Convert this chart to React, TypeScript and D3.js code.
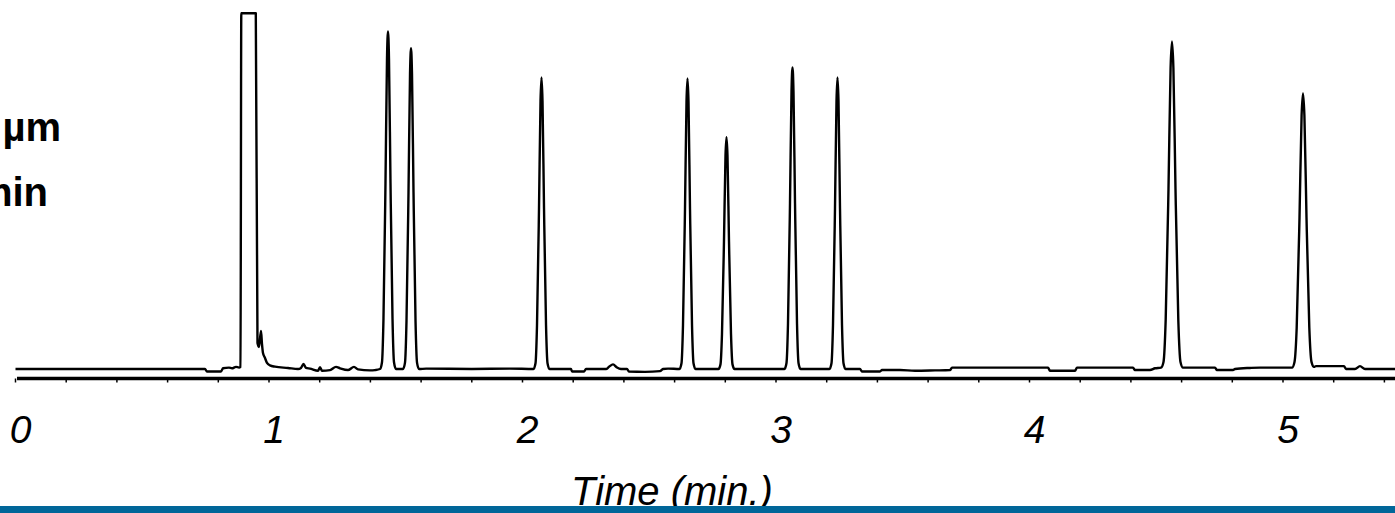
import React from 'react';
import * as d3 from 'd3';

const W = 1395;
const H = 513;

// x axis: minor ticks every 0.2 min, labels at whole minutes
const xTickValues = [0, 0.2, 0.4, 0.6, 0.8, 1, 1.2, 1.4, 1.6, 1.8, 2, 2.2, 2.4, 2.6, 2.8, 3, 3.2, 3.4, 3.6, 3.8, 4, 4.2, 4.4, 4.6, 4.8, 5, 5.2, 5.4];
const xTickLabels = [0, 1, 2, 3, 4, 5];
const axisTitle = 'Time (min.)';
const sideNotes = ['µm', 'min'];

// chromatogram trace: [time (min), signal (arbitrary, 100 = detector limit)]
const baselineLead: [number, number][] = [
  [0, 0], [0.7475, 0], [0.7554, -0.7], [0.8107, -0.7], [0.8185, 0.2], [0.8422, 0.4],
  [0.854, 0.2], [0.8698, 0.6], [0.8817, 0.4], [0.8876, 0.6],
];
const solventFront: [number, number][] = [
  [0.8907, 100], [0.9479, 100], [0.9546, 7.3], [0.9606, 6.2], [0.9684, 10.7], [0.9724, 7.0],
  [0.9763, 4.5], [0.9842, 3.1], [0.9921, 1.7], [1.0039, 1.0], [1.0237, 0.65], [1.075, 0.3], [1.1144, 0],
];
const baselineA: [number, number][] = [
  [1.1262, 0.3], [1.1361, 1.4], [1.146, 0.3], [1.1617, 0.1], [1.1933, -0.5], [1.2012, 0.5],
  [1.2091, -0.5], [1.2406, -0.3], [1.2643, 0.6], [1.2801, 0.2], [1.3116, -0.3], [1.3353, 0.6],
  [1.3511, -0.1], [1.3984, -0.4], [1.4181, -0.3],
];
const peak1: [number, number][] = [
  [1.4378, 0], [1.4457, 1.9], [1.4516, 14.2], [1.4595, 52.2], [1.4655, 87.3], [1.4694, 94.9],
  [1.4733, 87.3], [1.4793, 52.2], [1.4872, 14.2], [1.4931, 1.9], [1.501, 0],
];
const peak2: [number, number][] = [
  [1.5286, 0], [1.5365, 1.8], [1.5424, 13.5], [1.5503, 49.6], [1.5563, 83.0], [1.5602, 90.2],
  [1.5641, 83.0], [1.5701, 49.6], [1.578, 13.5], [1.5839, 1.8], [1.5918, 0],
];
const baselineB: [number, number][] = [[1.62, 0.1], [1.8, 0], [1.95, 0.1]];
const peak3: [number, number][] = [
  [2.0434, 0], [2.0513, 1.6], [2.0572, 12.3], [2.0651, 45.1], [2.0711, 75.4], [2.075, 82.0],
  [2.0789, 75.4], [2.0849, 45.1], [2.0928, 12.3], [2.0987, 1.6], [2.1066, 0],
];
const baselineC: [number, number][] = [
  [2.1913, 0], [2.1953, -0.7], [2.2426, -0.7], [2.2505, 0], [2.3294, 0], [2.3412, 0.6],
  [2.357, 1.3], [2.3728, 0.4], [2.3886, 0], [2.4122, 0], [2.4201, -0.7], [2.4832, -0.8],
  [2.5424, -0.6], [2.5542, 0], [2.574, 0.1],
];
const peak4: [number, number][] = [
  [2.6193, 0], [2.6272, 1.6], [2.6331, 12.3], [2.641, 44.9], [2.647, 75.2], [2.6509, 81.7],
  [2.6548, 75.2], [2.6608, 44.9], [2.6687, 12.3], [2.6746, 1.6], [2.6825, 0],
];
const peak5: [number, number][] = [
  [2.7731, 0], [2.781, 1.3], [2.7869, 9.8], [2.7948, 35.9], [2.8008, 60.0], [2.8047, 65.2],
  [2.8086, 60.0], [2.8146, 35.9], [2.8225, 9.8], [2.8284, 1.3], [2.8363, 0],
];
const baselineD: [number, number][] = [[2.93, 0]];
const peak6: [number, number][] = [
  [3.0335, 0], [3.0414, 1.7], [3.0473, 12.7], [3.0552, 46.6], [3.0612, 78.0], [3.0651, 84.8],
  [3.069, 78.0], [3.075, 46.6], [3.0829, 12.7], [3.0888, 1.7], [3.0967, 0],
];
const baselineE: [number, number][] = [[3.15, 0]];
const peak7: [number, number][] = [
  [3.211, 0], [3.2189, 1.6], [3.2248, 12.3], [3.2327, 45.1], [3.2387, 75.4], [3.2426, 82.0],
  [3.2465, 75.4], [3.2525, 45.1], [3.2604, 12.3], [3.2663, 1.6], [3.2742, 0],
];
const baselineF: [number, number][] = [
  [3.3314, 0], [3.3393, -0.7], [3.4103, -0.7], [3.4181, -0.3], [3.4892, -0.3], [3.5483, -0.5],
  [3.6272, -0.4], [3.6864, -0.3], [3.6943, 0.4], [4.073, 0.4], [4.0809, -0.5], [4.1795, -0.5],
  [4.1874, 0.4], [4.4083, 0.4], [4.4162, -0.3], [4.4753, -0.3], [4.4951, 0.2],
];
const peak8: [number, number][] = [
  [4.5187, 0.4], [4.5286, 2.0], [4.5372, 13.8], [4.5483, 50.7], [4.5566, 84.7], [4.5621, 92.1],
  [4.5676, 84.7], [4.5759, 50.7], [4.587, 13.8], [4.5956, 2.0], [4.6055, 0.4],
];
const baselineG: [number, number][] = [
  [4.6134, 0.4], [4.7318, 0.4], [4.7396, -0.3], [4.8028, -0.3], [4.8107, 0], [4.8698, 0.3],
  [4.9093, 0.4], [5.0276, 0.4],
];
const peak9: [number, number][] = [
  [5.0355, 0.4], [5.0454, 2.0], [5.054, 11.6], [5.0651, 42.6], [5.0734, 71.3], [5.0789, 77.5],
  [5.0844, 71.3], [5.0927, 42.6], [5.1038, 11.6], [5.1124, 2.0], [5.1223, 0.6],
];
const baselineH: [number, number][] = [
  [5.1301, 0.8], [5.2406, 0.8], [5.2485, 0], [5.284, 0], [5.3037, 0.8], [5.3235, 0], [5.4615, 0],
];

const trace = [
  ...baselineLead, ...solventFront, ...baselineA, ...peak1, ...peak2, ...baselineB, ...peak3,
  ...baselineC, ...peak4, ...peak5, ...baselineD, ...peak6, ...baselineE, ...peak7, ...baselineF,
  ...peak8, ...baselineG, ...peak9, ...baselineH,
].sort((a, b) => a[0] - b[0]);

const FONT = '"Liberation Sans", Arial, Helvetica, sans-serif';

export default function App() {
  const x = d3.scaleLinear().domain([0, 5.5]).range([15.5, 15.5 + 5.5 * 253.5]);
  const y = d3.scaleLinear().domain([0, 100]).range([369, 13.3]);
  const line = d3
    .line<[number, number]>()
    .x((d) => x(d[0]))
    .y((d) => y(d[1]))
    .curve(d3.curveMonotoneX);

  const axisY = 378.5;

  return (
    <div style={{ position: 'absolute', left: 0, top: 0 }}>
      <svg width={W} height={H} viewBox={`0 0 ${W} ${H}`} style={{ display: 'block', background: '#fff' }}>
        <rect x={0} y={0} width={W} height={H} fill="#fff" />
        {/* side notes, cut at the left edge as in the source slide */}
        <text x={61} y={141} textAnchor="end" fontFamily={FONT} fontWeight="bold" fontSize={40} fill="#000">
          {sideNotes[0]}
        </text>
        <text x={48} y={206} textAnchor="end" fontFamily={FONT} fontWeight="bold" fontSize={40} fill="#000">
          {sideNotes[1]}
        </text>

        {/* trace */}
        <path d={line(trace) || ''} fill="none" stroke="#000" strokeWidth={2.4} strokeLinejoin="round" />

        {/* x axis */}
        <line x1={17} x2={W} y1={axisY} y2={axisY} stroke="#000" strokeWidth={3.5} />
        {xTickValues.map((v) => (
          <line key={v} x1={x(v)} x2={x(v)} y1={axisY} y2={axisY + 4} stroke="#000" strokeWidth={1.5} />
        ))}
        {xTickLabels.map((v) => (
          <text
            key={v}
            x={x(v) + 5}
            y={443}
            textAnchor="middle"
            fontFamily={FONT}
            fontStyle="italic"
            fontSize={39}
            fill="#000"
          >
            {v}
          </text>
        ))}
        <text x={672} y={505} textAnchor="middle" fontFamily={FONT} fontStyle="italic" fontSize={40} fill="#000">
          {axisTitle}
        </text>

        {/* bottom band */}
        <rect x={0} y={506} width={W} height={H - 506} fill="#006699" />
      </svg>
    </div>
  );
}
